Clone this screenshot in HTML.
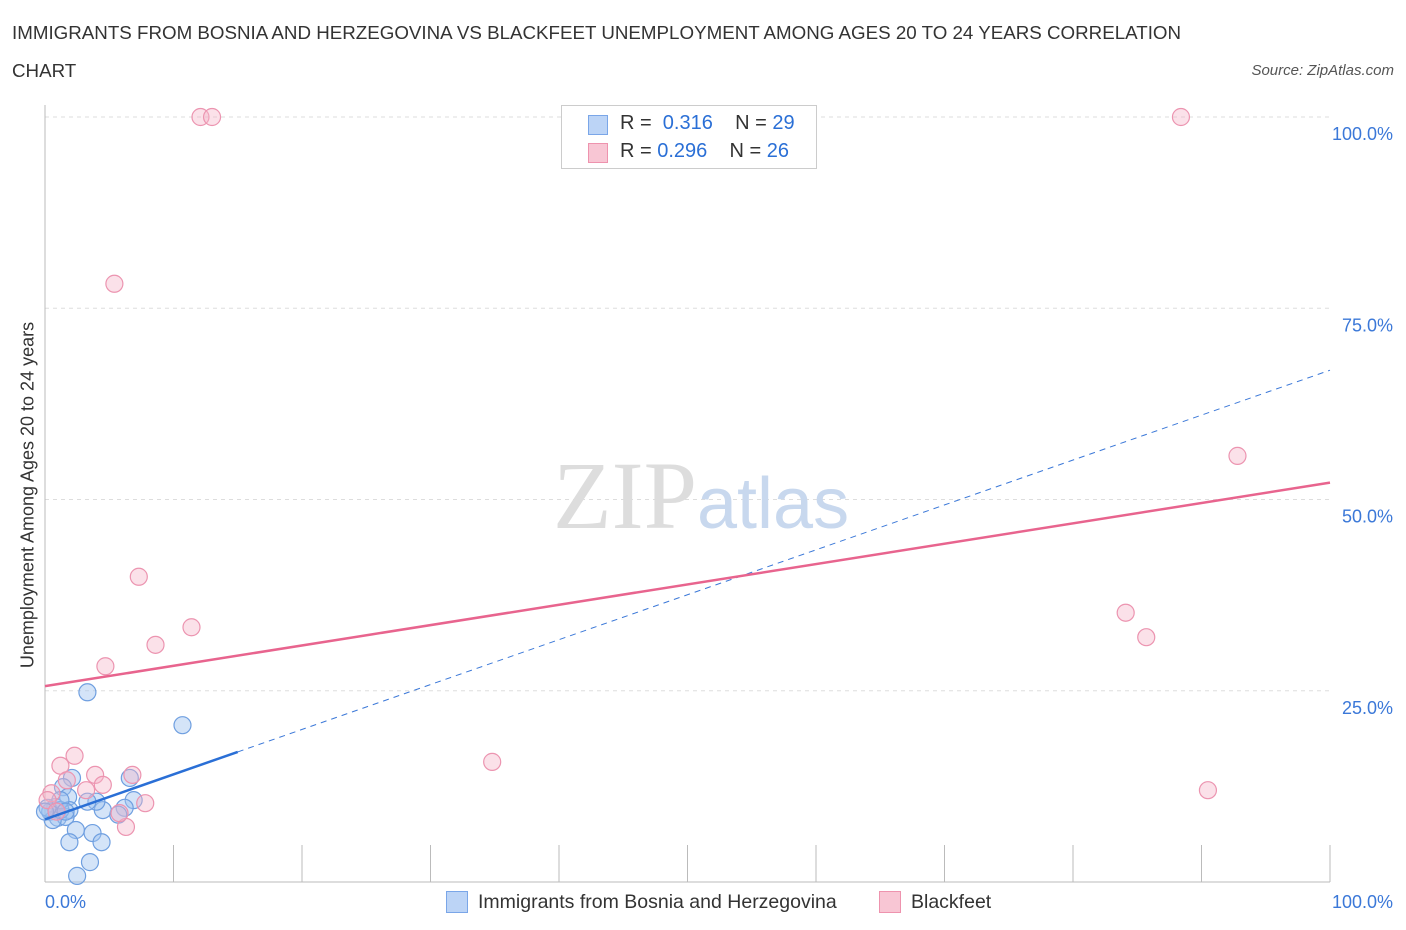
<!DOCTYPE html>
<html><head><meta charset="utf-8"><style>
body{margin:0;background:#fff;font-family:"Liberation Sans",sans-serif;}
#wrap{position:relative;width:1406px;height:930px;overflow:hidden}
.t{position:absolute;white-space:nowrap}
</style></head><body><div id="wrap">
<div class="t" style="left:12px;top:14px;font-size:18.75px;color:#333;line-height:38px">IMMIGRANTS FROM BOSNIA AND HERZEGOVINA VS BLACKFEET UNEMPLOYMENT AMONG AGES 20 TO 24 YEARS CORRELATION<br>CHART</div>
<div class="t" style="right:12px;top:62px;font-size:15px;color:#555;font-style:italic">Source: ZipAtlas.com</div>
<svg id="svg" width="1406" height="930" style="position:absolute;left:0;top:0"></svg>
<div style="position:absolute;left:561px;top:105px;width:254px;height:62px;border:1px solid #ccc;background:#fff;font-size:20px;color:#333">
<div style="position:absolute;left:26px;top:9px;width:18px;height:18px;background:#bcd4f6;border:1px solid #7aa6e8"></div>
<div class="t" style="left:58px;top:6px">R = <span style="color:#2a6fd6">&nbsp;0.316</span>&nbsp;&nbsp;&nbsp; N = <span style="color:#2a6fd6">29</span></div>
<div style="position:absolute;left:26px;top:37px;width:18px;height:18px;background:#f8c6d4;border:1px solid #ee93ae"></div>
<div class="t" style="left:58px;top:34px">R = <span style="color:#2a6fd6">0.296</span>&nbsp;&nbsp;&nbsp; N = <span style="color:#2a6fd6">26</span></div>
</div>
<div class="t" style="left:28px;top:495px;font-size:18px;color:#333;transform:translate(-50%,-50%) rotate(-90deg)">Unemployment Among Ages 20 to 24 years</div>
<div class="t" style="left:553px;top:440px;font-size:96px;color:#ddd;font-family:'Liberation Serif',serif">ZIP<span style="font-family:'Liberation Sans',sans-serif;color:#c8d8ee;font-size:72px">atlas</span></div>
<div>
<div style="position:absolute;left:446px;top:891px;width:20px;height:20px;background:#bcd4f6;border:1px solid #7aa6e8"></div>
<div class="t" style="left:478px;top:891px;font-size:19.5px;color:#333">Immigrants from Bosnia and Herzegovina</div>
<div style="position:absolute;left:879px;top:891px;width:20px;height:20px;background:#f8c6d4;border:1px solid #ee93ae"></div>
<div class="t" style="left:911px;top:891px;font-size:19.5px;color:#333">Blackfeet</div>
</div>
</div>
<script>
const yTicks=[25,50,75,100];
const yTickLabels=["25.0%","50.0%","75.0%","100.0%"];
const blueX=[3.3,10.7,6.6,6.9,6.2,5.7,4.5,4.0,3.3,2.1,1.4,1.8,1.9,0.8,0.4,1.0,1.6,0.6,1.2,2.4,3.7,1.9,4.4,3.5,2.5,0.2,0,1.2,1.6];
const blueY=[24.8,20.5,13.6,10.7,9.7,8.8,9.4,10.5,10.5,13.6,12.4,11.1,9.4,9.8,9.2,8.4,8.5,8.1,9.4,6.8,6.4,5.2,5.2,2.6,0.8,9.7,9.2,10.7,9.2];
const pinkX=[12.1,13.0,88.4,5.4,7.3,11.4,8.6,4.7,84.1,85.7,92.8,34.8,90.5,2.3,1.2,3.9,6.8,4.5,3.2,1.7,7.8,6.3,5.8,0.5,0.2,0.9];
const pinkY=[100,100,100,78.2,39.9,33.3,31.0,28.2,35.2,32.0,55.7,15.7,12.0,16.5,15.2,14.0,14.0,12.7,12.0,13.3,10.3,7.2,9.0,11.6,10.7,9.2];
const blueTrend=[8.2,66.9];
const pinkTrend=[25.6,52.2];
const X=v=>45+v*12.85, Y=v=>882-v*7.65;
const s=document.getElementById('svg');const NS='http://www.w3.org/2000/svg';
function mk(t,a){const e=document.createElementNS(NS,t);for(const k in a)e.setAttribute(k,a[k]);s.appendChild(e);return e;}
yTicks.forEach((t,i)=>{
 const l=mk('line',{x1:45,x2:1330,y1:Y(t),y2:Y(t),stroke:'#ddd','stroke-dasharray':'4,4'});
 
 
 const tx=mk('text',{x:1393,y:Y(t)+23,'text-anchor':'end','font-size':18,fill:'#3b78d8','font-family':'Liberation Sans'});
 tx.textContent=yTickLabels[i];
 
 
});
let ax=mk('line',{x1:45,x2:45,y1:105,y2:882,stroke:'#bbb'});


ax=mk('line',{x1:45,x2:1330,y1:882,y2:882,stroke:'#bbb'});


for(let i=1;i<=10;i++){const tk=mk('line',{x1:X(i*10),x2:X(i*10),y1:845,y2:882,stroke:'#bbb'});
 
 }
[['0.0%',45,'start'],['100.0%',1393,'end']].forEach(a=>{const t=mk('text',{x:a[1],y:908,'text-anchor':a[2],'font-size':18,fill:'#3b78d8','font-family':'Liberation Sans'});t.textContent=a[0];
 
 });
blueX.forEach((x,i)=>{const c=mk('circle',{cx:X(x),cy:Y(blueY[i]),r:8.5,fill:'rgba(160,195,240,0.45)',stroke:'#6f9fe0','stroke-width':1.2});
 
 });
pinkX.forEach((x,i)=>{const c=mk('circle',{cx:X(x),cy:Y(pinkY[i]),r:8.5,fill:'rgba(246,180,200,0.4)',stroke:'#ec94b0','stroke-width':1.2});
 
 });
const bAt=x=>blueTrend[0]+(blueTrend[1]-blueTrend[0])*x/100;
let l=mk('line',{x1:X(15),y1:Y(bAt(15)),x2:X(100),y2:Y(bAt(100)),stroke:'#3b78d8','stroke-width':1,'stroke-dasharray':'6,5'});


l=mk('line',{x1:X(0),y1:Y(bAt(0)),x2:X(15),y2:Y(bAt(15)),stroke:'#2a6fd6','stroke-width':2.5});


l=mk('line',{x1:X(0),y1:Y(pinkTrend[0]),x2:X(100),y2:Y(pinkTrend[1]),stroke:'#e8648e','stroke-width':2.5});


</script></body></html>
